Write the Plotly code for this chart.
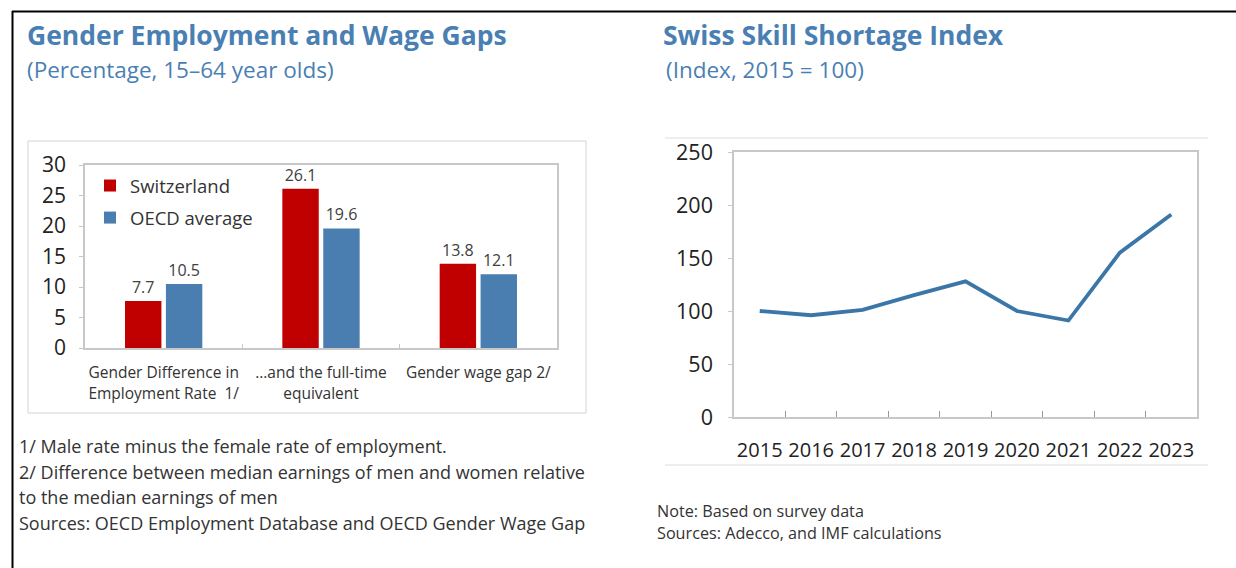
import plotly.graph_objects as go

# ---------------- data ----------------
gap_categories = ["Gender Difference in<br>Employment Rate  1/",
                  "…and the full-time<br>equivalent",
                  "Gender wage gap 2/"]
switzerland = [7.7, 26.1, 13.8]
oecd_average = [10.5, 19.6, 12.1]
gap_yticks = [0, 5, 10, 15, 20, 25, 30]

years = ["2015", "2016", "2017", "2018", "2019", "2020", "2021", "2022", "2023"]
skill_index = [100, 96, 101, 115, 128, 100, 91, 155, 191]
index_yticks = [0, 50, 100, 150, 200, 250]

# ---------------- layout helpers ----------------
W, H = 1236, 568
def px(x):
    return x / W
def py(y):
    return 1 - y / H

TITLE_BLUE = "#4a7fb3"
RED = "#c00000"
BLUE = "#4a7eb0"
LINE_BLUE = "#3b76a8"
FRAME = "#c8c8c8"
FONT = "Open Sans"

fig = go.Figure()

fig.add_trace(go.Bar(
    x=gap_categories, y=switzerland, name="Switzerland", legendgroup="sw",
    marker=dict(color=RED, line=dict(width=0)),
    texttemplate="%{y}", textposition="outside", cliponaxis=False,
    textfont=dict(size=16, color="#404040", family=FONT),
    xaxis="x", yaxis="y", hoverinfo="skip"))
fig.add_trace(go.Bar(
    x=gap_categories, y=oecd_average, name="OECD average", legendgroup="oecd",
    marker=dict(color=BLUE, line=dict(width=0)),
    texttemplate="%{y}", textposition="outside", cliponaxis=False,
    textfont=dict(size=16, color="#404040", family=FONT),
    xaxis="x", yaxis="y", hoverinfo="skip"))

fig.add_trace(go.Scatter(
    x=years, y=skill_index, mode="lines", showlegend=False,
    line=dict(color=LINE_BLUE, width=3.8),
    xaxis="x2", yaxis="y2", hoverinfo="skip"))

fig.update_layout(
    width=W, height=H,
    margin=dict(l=0, r=0, t=0, b=0, pad=0, autoexpand=False),
    paper_bgcolor="white", plot_bgcolor="white",
    font=dict(family=FONT, color="#222222"),
    barmode="group", bargap=0.48, bargroupgap=0.11,
    showlegend=True,
    legend=dict(x=px(90), y=py(167), xanchor="left", yanchor="top",
                bgcolor="rgba(0,0,0,0)", font=dict(size=18.5, color="#333333"),
                tracegroupgap=5, itemsizing="constant"),
    xaxis=dict(domain=[px(85), px(557)], anchor="y", type="category",
               showline=True, linecolor=FRAME, linewidth=1.5, mirror=True,
               ticks="inside", ticklen=4, tickcolor=FRAME, tickson="boundaries",
               tickangle=0, ticklabelstandoff=10, automargin=False,
               tickfont=dict(size=15.5, color="#333333"), showgrid=False,
               fixedrange=True),
    yaxis=dict(domain=[py(348), py(165)], anchor="x", range=[0, 30],
               tickvals=gap_yticks, showline=True, linecolor=FRAME, linewidth=1.5,
               mirror=True, ticks="outside", ticklen=4, tickcolor=FRAME,
               ticklabelstandoff=9, automargin=False,
               tickfont=dict(size=21, color="#222222"), showgrid=False,
               zeroline=False, fixedrange=True),
    xaxis2=dict(domain=[px(734), px(1197)], anchor="y2", type="category",
                range=[-0.5, len(years) - 0.5],
                showline=True, linecolor=FRAME, linewidth=1.5, mirror=True,
                ticks="inside", ticklen=6, tickcolor="#999999", tickson="boundaries",
                tickangle=0, ticklabelstandoff=14, automargin=False,
                tickfont=dict(size=20, color="#222222"), showgrid=False,
                fixedrange=True),
    yaxis2=dict(domain=[py(417), py(152)], anchor="x2", range=[0, 250],
                tickvals=index_yticks, showline=True, linecolor=FRAME, linewidth=1.5,
                mirror=True, ticks="outside", ticklen=4, tickcolor=FRAME,
                ticklabelstandoff=11, automargin=False,
                tickfont=dict(size=21.5, color="#222222"), showgrid=False,
                zeroline=False, fixedrange=True),
)

shapes = [
    # outer black frame
    dict(type="line", xref="paper", yref="paper", x0=px(12.5), x1=px(12.5),
         y0=py(11), y1=py(568), line=dict(color="black", width=2)),
    dict(type="line", xref="paper", yref="paper", x0=px(12), x1=px(1236),
         y0=py(11.5), y1=py(11.5), line=dict(color="black", width=2)),
    # left chart picture box
    dict(type="rect", xref="paper", yref="paper", x0=px(28), x1=px(586),
         y0=py(413), y1=py(141), line=dict(color="#d4d4d4", width=1)),
    # right chart picture box (top/bottom only)
    dict(type="line", xref="paper", yref="paper", x0=px(665), x1=px(1208),
         y0=py(138), y1=py(138), line=dict(color="#dcdcdc", width=1)),
    dict(type="line", xref="paper", yref="paper", x0=px(665), x1=px(1208),
         y0=py(465), y1=py(465), line=dict(color="#dcdcdc", width=1)),
]
fig.update_layout(shapes=shapes)

def txt(x, y, s, size, color, bold=False):
    fig.add_annotation(x=px(x), y=py(y), xref="paper", yref="paper",
                       xanchor="left", yanchor="middle", showarrow=False,
                       text=f"<b>{s}</b>" if bold else s,
                       font=dict(size=size, color=color, family=FONT))

txt(25, 35, "Gender Employment and Wage Gaps", 26.5, TITLE_BLUE, bold=True)
txt(25, 69, "(Percentage, 15–64 year olds)", 22.5, TITLE_BLUE)
txt(661, 35, "Swiss Skill Shortage Index", 26.5, TITLE_BLUE, bold=True)
txt(664, 69, "(Index, 2015 = 100)", 22.5, TITLE_BLUE)

notes_left = ["1/ Male rate minus the female rate of employment.",
              "2/ Difference between median earnings of men and women relative",
              "to the median earnings of men",
              "Sources: OECD Employment Database and OECD Gender Wage Gap"]
for i, s in enumerate(notes_left):
    txt(17, 446 + i * 25.7, s, 18, "#333333")

notes_right = ["Note: Based on survey data", "Sources: Adecco, and IMF calculations"]
for i, s in enumerate(notes_right):
    txt(655, 511 + i * 22, s, 16.2, "#333333")

fig.write_html("out.html",
               config={"displayModeBar": False},
               post_script="document.body.style.margin='0px';"
                           "document.body.style.overflow='hidden';")
